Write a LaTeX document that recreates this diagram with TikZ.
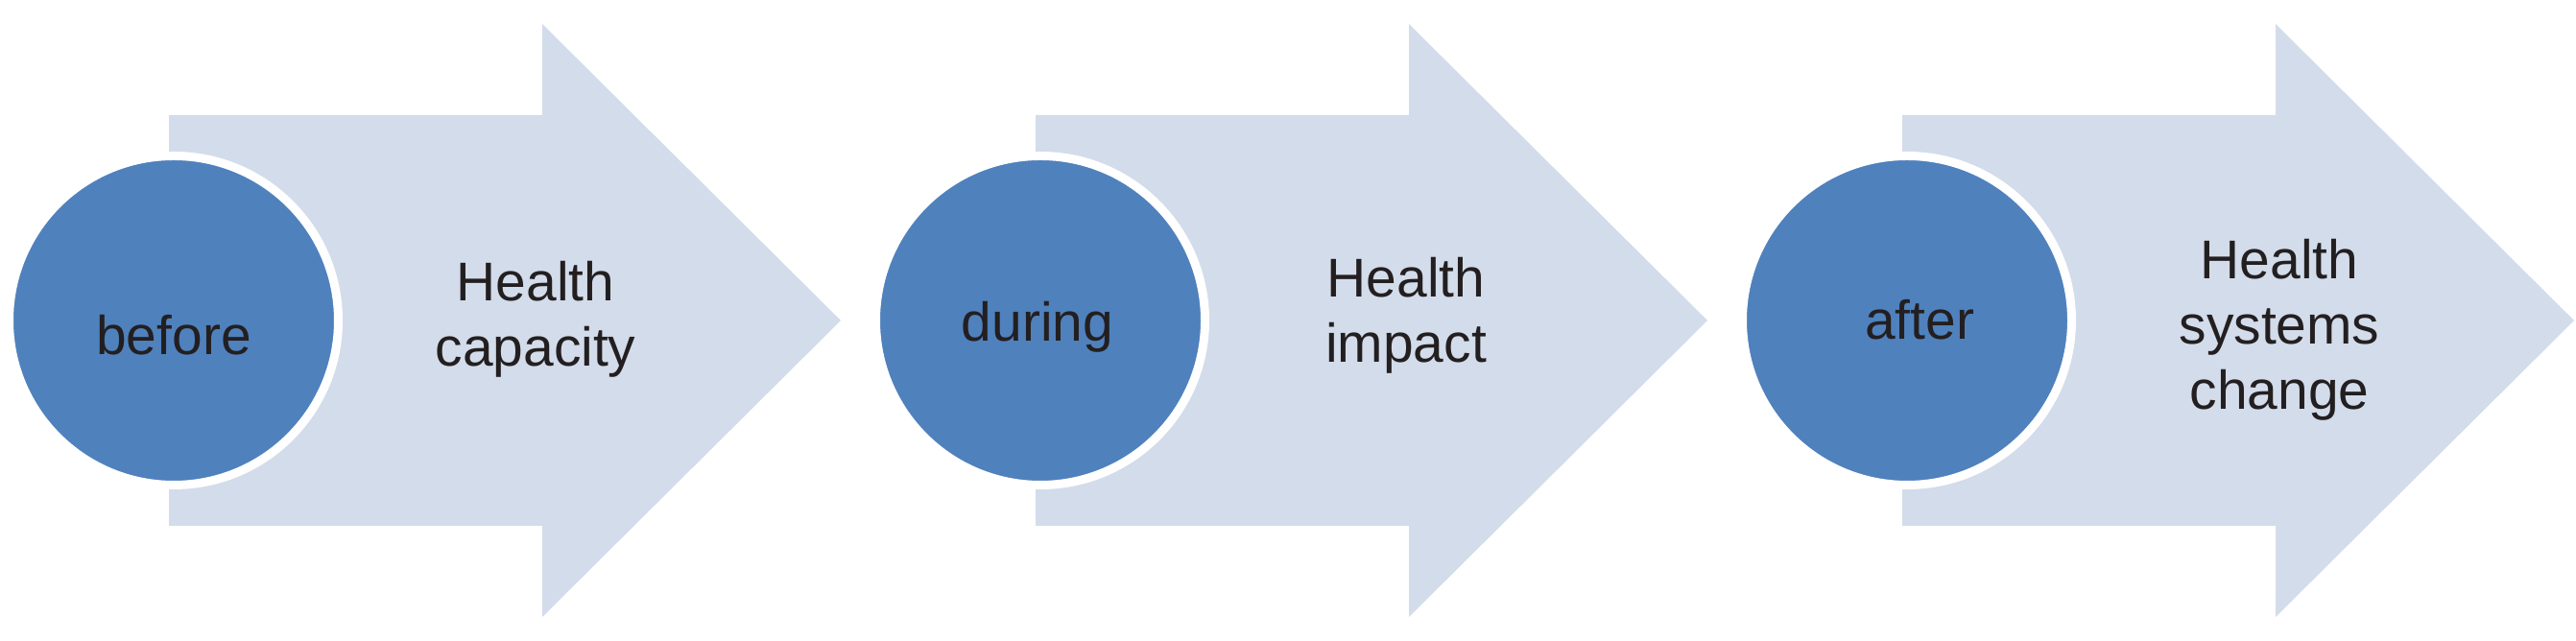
\documentclass[tikz,border=0pt]{standalone}
\usepackage{fontspec}
\setmainfont{Liberation Sans}
\definecolor{stageblue}{HTML}{4F81BD}
\definecolor{arrowfill}{HTML}{D3DCEA}
\definecolor{inktext}{HTML}{231F20}

\begin{document}
\begin{tikzpicture}[
    phase/.style={circle, fill=stageblue, draw=white, line width=0.09cm, minimum size=3.43cm, inner sep=0pt},
    word/.style={text=inktext, font=\fontsize{16.2}{19.35}\selectfont, align=center, inner sep=0pt}
  ]
    \useasboundingbox (0,-3.34) rectangle (26.84,3.34);

    % Draw the big arrows
    \fill[arrowfill] (1.76,2.14) -- (5.65,2.14) -- (5.65,3.09) -- (8.76,0) -- (5.65,-3.09) -- (5.65,-2.14) -- (1.76,-2.14) -- cycle;
    \fill[arrowfill] (10.79,2.14) -- (14.68,2.14) -- (14.68,3.09) -- (17.79,0) -- (14.68,-3.09) -- (14.68,-2.14) -- (10.79,-2.14) -- cycle;
    \fill[arrowfill] (19.82,2.14) -- (23.71,2.14) -- (23.71,3.09) -- (26.82,0) -- (23.71,-3.09) -- (23.71,-2.14) -- (19.82,-2.14) -- cycle;

    % Define the phase circles
    \node[phase] (before) at (1.81,0) {};
    \node[phase] (during) at (10.84,0) {};
    \node[phase] (after) at (19.87,0) {};

    % Phase names
    \node[word, anchor=base] (beforename) at (1.81,-0.36) {before};
    \node[word, anchor=base] (duringname) at (10.81,-0.22) {during};
    \node[word, anchor=base] (aftername) at (20.00,-0.20) {after};

    % Arrow texts
    \node[word, anchor=north] (capacity) at (5.58,0.62) {Health\\capacity};
    \node[word, anchor=north] (impact) at (14.65,0.66) {Health\\impact};
    \node[word, anchor=north] (change) at (23.75,0.85) {Health\\systems\\change};
\end{tikzpicture}
\end{document}
